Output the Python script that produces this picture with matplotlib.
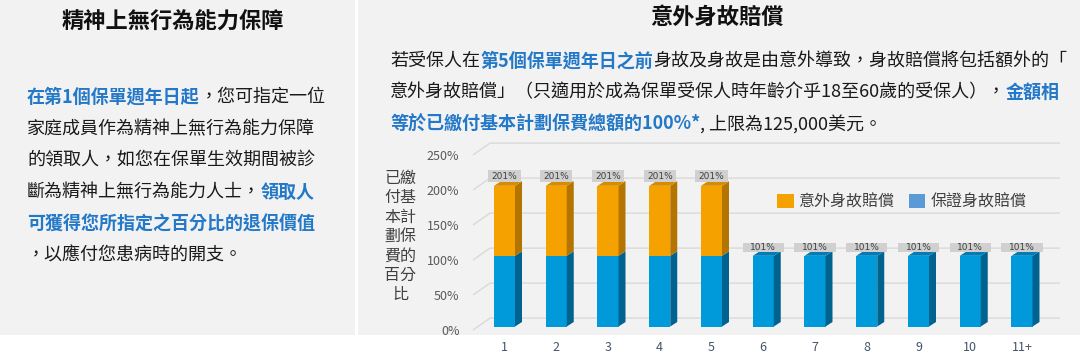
import matplotlib
matplotlib.use("Agg")
import matplotlib.pyplot as plt
from matplotlib.patches import Rectangle, Polygon, Patch

plt.rcParams['font.family'] = ['Noto Sans CJK TC', 'DejaVu Sans']

# ---------------- data ----------------
years = ["1", "2", "3", "4", "5", "6", "7", "8", "9", "10", "11+"]
guaranteed = [101, 101, 101, 101, 101, 101, 101, 101, 101, 101, 101]   # 保證身故賠償
accident = [100, 100, 100, 100, 100, 0, 0, 0, 0, 0, 0]                  # 意外身故賠償
yticks = [0, 50, 100, 150, 200, 250]
legend_labels = ["意外身故賠償", "保證身故賠償"]
ylabel_lines = ["已繳", "付基", "本計", "劃保", "費的", "百分", "比"]

left_title = "精神上無行為能力保障"
right_title = "意外身故賠償"
BLUE_T = "#2378c8"
BLACK_T = "#1a1a1a"
left_lines = [
    [("在第1個保單週年日起", "b"), ("，您可指定一位", "n")],
    [("家庭成員作為精神上無行為能力保障", "n")],
    [("的領取人，如您在保單生效期間被診", "n")],
    [("斷為精神上無行為能力人士，", "n"), ("領取人", "b")],
    [("可獲得您所指定之百分比的退保價值", "b")],
    [("，以應付您患病時的開支。", "n")],
]
right_lines = [
    [("若受保人在", "n"), ("第5個保單週年日之前", "b"),
     ("身故及身故是由意外導致，身故賠償將包括額外的「", "n")],
    [("意外身故賠償」（只適用於成為保單受保人時年齡介乎18至60歲的受保人），", "n"),
     ("金額相", "b")],
    [("等於已繳付基本計劃保費總額的100%*", "b"), (", 上限為125,000美元。", "n")],
]

# ---------------- figure ----------------
W, H = 1080, 362
fig = plt.figure(figsize=(W / 100, H / 100), dpi=100)
fig.patch.set_facecolor("white")

def fx(px):
    return px / W

def fy(py):
    return 1 - py / H

# panel backgrounds
fig.patches.append(Rectangle((0, fy(335)), fx(355), 335 / H, transform=fig.transFigure,
                             facecolor="#f2f2f2", edgecolor="none", zorder=-10))
fig.patches.append(Rectangle((fx(358), fy(335)), 1 - fx(358), 335 / H, transform=fig.transFigure,
                             facecolor="#f2f2f2", edgecolor="none", zorder=-10))

renderer = fig.canvas.get_renderer()

def draw_runs(x_px, y_px, runs, size):
    x = x_px
    for text, kind in runs:
        color = BLUE_T if kind == "b" else BLACK_T
        weight = "bold" if kind == "b" else "normal"
        t = fig.text(fx(x), fy(y_px), text, color=color, fontweight=weight,
                     fontsize=size, va="center", ha="left")
        x += t.get_window_extent(renderer).width

# titles
fig.text(fx(173), fy(22), left_title, fontsize=16, fontweight="bold",
         color="#111111", ha="center", va="center")
fig.text(fx(717), fy(17), right_title, fontsize=16, fontweight="bold",
         color="#111111", ha="center", va="center")

for i, runs in enumerate(left_lines):
    draw_runs(27, 97 + i * 31.8, runs, 13.0)
for i, runs in enumerate(right_lines):
    draw_runs(390, 61 + i * 31.5, runs, 13)

# ---------------- chart ----------------
PX_PER_UNIT_Y = 0.7
Y0_PX = 330
SLOT_PX = 51.75
X0_PX = 504.5
ax_l, ax_r, ax_b, ax_t = 465, 1065, 335, 135
ax = fig.add_axes([fx(ax_l), fy(ax_b), (ax_r - ax_l) / W, (ax_b - ax_t) / H])
ax.set_facecolor("none")
ax.set_xlim((ax_l - X0_PX) / SLOT_PX, (ax_r - X0_PX) / SLOT_PX)
ax.set_ylim(-(ax_b - Y0_PX) / PX_PER_UNIT_Y, (Y0_PX - ax_t) / PX_PER_UNIT_Y)
for s in ax.spines.values():
    s.set_visible(False)

# 3D-look style parameters
BASE = 5          # bars sit slightly behind the front plane
WALL = 17         # back wall depth (y units)
bw = 0.406
ddx = 0.135
ddy = 6.4
grid_x_front = (473 - X0_PX) / SLOT_PX
grid_x_back = (490 - X0_PX) / SLOT_PX
grid_x_end = (1060 - X0_PX) / SLOT_PX

for v in yticks:
    ax.plot([grid_x_front, grid_x_back, grid_x_end], [v, v + WALL, v + WALL],
            color="#d9d9d9", lw=1, zorder=1, solid_capstyle="butt")

xs = list(range(len(years)))
blue_f, blue_s, blue_t = "#0099d9", "#00628f", "#007db8"
ora_f, ora_s, ora_t = "#f5a200", "#b37400", "#d68c00"

ax.bar(xs, guaranteed, bottom=BASE, width=bw, color=blue_f, zorder=3, linewidth=0)
acc_bottom = [BASE + g for g in guaranteed]
ax.bar(xs, accident, bottom=acc_bottom, width=bw, color=ora_f, zorder=3, linewidth=0)

def side(c, y0, y1, color):
    r = c + bw / 2
    ax.add_patch(Polygon([(r, y0), (r + ddx, y0 + ddy), (r + ddx, y1 + ddy), (r, y1)],
                         closed=True, facecolor=color, edgecolor="none", zorder=3))

def top(c, y1, color):
    l, r = c - bw / 2, c + bw / 2
    ax.add_patch(Polygon([(l, y1), (l + ddx, y1 + ddy), (r + ddx, y1 + ddy), (r, y1)],
                         closed=True, facecolor=color, edgecolor="none", zorder=3))

for i, (g, a) in enumerate(zip(guaranteed, accident)):
    side(i, BASE, BASE + g, blue_s)
    if a > 0:
        side(i, BASE + g, BASE + g + a, ora_s)
        top(i, BASE + g + a, ora_t)
    else:
        top(i, BASE + g, blue_t)
    total = g + a
    ttop = BASE + total
    if a > 0:
        lw_, lh_ = 0.62, 18
    else:
        lw_, lh_ = 0.8, 13
    ax.add_patch(Rectangle((i - lw_ / 2, ttop + 5), lw_, lh_, facecolor="#d0d0d0",
                           edgecolor="none", zorder=4))
    ax.text(i, ttop + 5 + lh_ / 2, f"{total}%", fontsize=6.5, color="#404040",
            ha="center", va="center", zorder=5, family=["DejaVu Sans"])

ax.set_yticks(yticks)
ax.set_yticklabels([f"{v}%" for v in yticks])
ax.set_xticks(xs)
ax.set_xticklabels(years)
ax.tick_params(axis="y", length=0, pad=4, labelsize=9, labelcolor="#595959")
ax.tick_params(axis="x", length=0, pad=4.5, labelsize=9, labelcolor="#44546a")

# y label stacked characters
for i, line in enumerate(ylabel_lines):
    fig.text(fx(400), fy(178 + i * 19.5), line, fontsize=11.5, color="#404040",
             ha="center", va="center")

# legend
handles = [Patch(facecolor=ora_f, edgecolor="none"), Patch(facecolor="#5b9bd5", edgecolor="none")]
leg = fig.legend(handles, legend_labels, ncol=2, frameon=False, fontsize=11.5,
                 handlelength=1.05, handleheight=1.05, handletextpad=0.3,
                 columnspacing=0.9, loc="center",
                 bbox_to_anchor=(fx(901.5), fy(202)))
for t in leg.get_texts():
    t.set_color("#404040")

fig.savefig("out.png", dpi=100)
